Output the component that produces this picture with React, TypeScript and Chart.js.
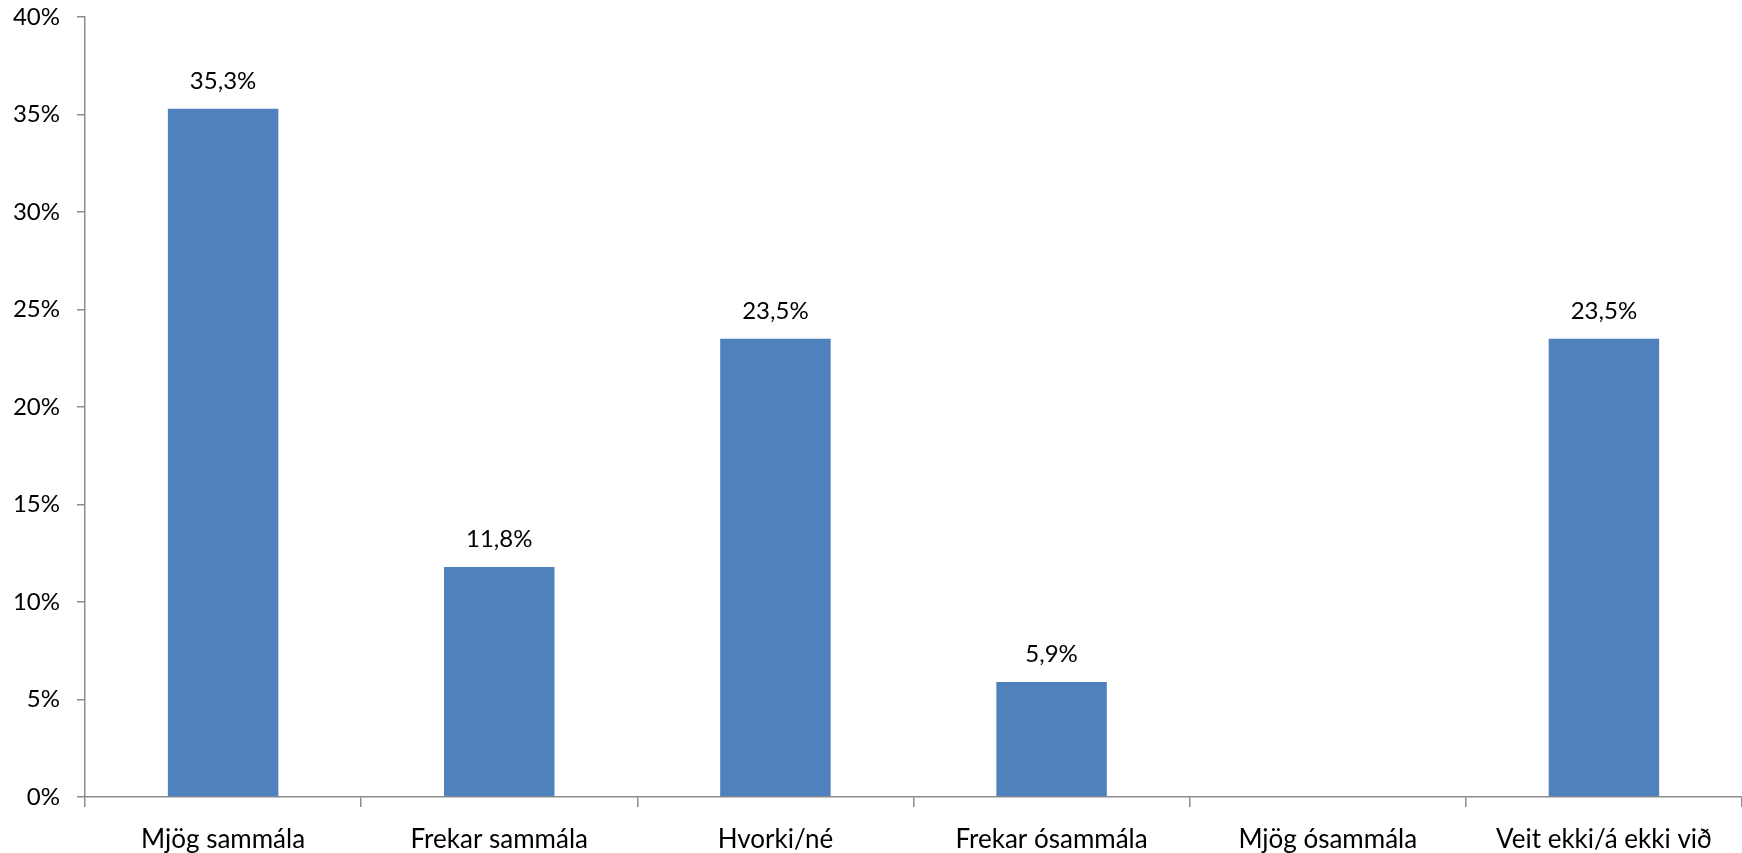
import React, { useEffect, useRef } from "react";
import { Chart, registerables } from "chart.js";

Chart.register(...registerables);

const categories = [
  "Mjög sammála",
  "Frekar sammála",
  "Hvorki/né",
  "Frekar ósammála",
  "Mjög ósammála",
  "Veit ekki/á ekki við",
];
const values = [35.3, 11.8, 23.5, 5.9, 0, 23.5];
const yTicksMax = 40;
const yTicksStep = 5;

const FONT = "Lato, 'Open Sans', sans-serif";
const NUM_SIZE = 24;
const CAT_SIZE = 26;
const AXIS_COLOR = "#8c8c8c";

const valueLabels = {
  id: "valueLabels",
  afterDatasetsDraw(chart: any) {
    const ctx = chart.ctx;
    const meta = chart.getDatasetMeta(0);
    ctx.save();
    ctx.font = `${NUM_SIZE}px ${FONT}`;
    ctx.fillStyle = "#000";
    ctx.textAlign = "center";
    ctx.textBaseline = "alphabetic";
    meta.data.forEach((bar: any, i: number) => {
      const v = values[i];
      if (!v) return;
      ctx.fillText(v.toFixed(1).replace(".", ",") + "%", bar.x, bar.y - 20);
    });
    ctx.restore();
  },
};

export default function App() {
  const ref = useRef<HTMLCanvasElement>(null);
  useEffect(() => {
    if (!ref.current) return;
    const chart = new Chart(ref.current, {
      type: "bar",
      data: {
        labels: categories,
        datasets: [
          {
            data: values,
            backgroundColor: "#4F81BD",
            borderWidth: 0,
            categoryPercentage: 1,
            barPercentage: 0.4,
          },
        ],
      },
      options: {
        animation: false,
        responsive: true,
        maintainAspectRatio: false,
        layout: { padding: { top: 17, right: 0, left: 0, bottom: 0 } },
        plugins: {
          legend: { display: false },
          tooltip: { enabled: false },
        },
        scales: {
          x: {
            offset: true,
            grid: {
              display: true,
              offset: true,
              drawOnChartArea: false,
              drawTicks: true,
              tickLength: 10,
              color: AXIS_COLOR,
              lineWidth: 1.5,
            },
            border: { display: true, color: AXIS_COLOR, width: 1.5 },
            ticks: {
              color: "#000",
              font: { family: FONT, size: CAT_SIZE },
              padding: 17,
              maxRotation: 0,
              autoSkip: false,
            },
            afterFit: (s: any) => {
              s.height = 56;
              s.paddingLeft = 0;
              s.paddingRight = 0;
            },
          },
          y: {
            min: 0,
            max: yTicksMax,
            grid: {
              display: true,
              drawOnChartArea: false,
              drawTicks: true,
              tickLength: 8,
              color: AXIS_COLOR,
              lineWidth: 1.5,
            },
            border: { display: true, color: AXIS_COLOR, width: 1.5 },
            ticks: {
              stepSize: yTicksStep,
              color: "#000",
              font: { family: FONT, size: NUM_SIZE },
              padding: 17,
              callback: (v: any) => v + "%",
            },
            afterFit: (s: any) => {
              s.width = 85;
              s.paddingTop = 0;
              s.paddingBottom = 0;
            },
          },
        },
      },
      plugins: [valueLabels],
    });
    return () => chart.destroy();
  }, []);
  return (
    <div style={{ position: "fixed", left: 0, top: 0, width: 1742, height: 853, background: "#fff" }}>
      <canvas ref={ref} />
    </div>
  );
}
